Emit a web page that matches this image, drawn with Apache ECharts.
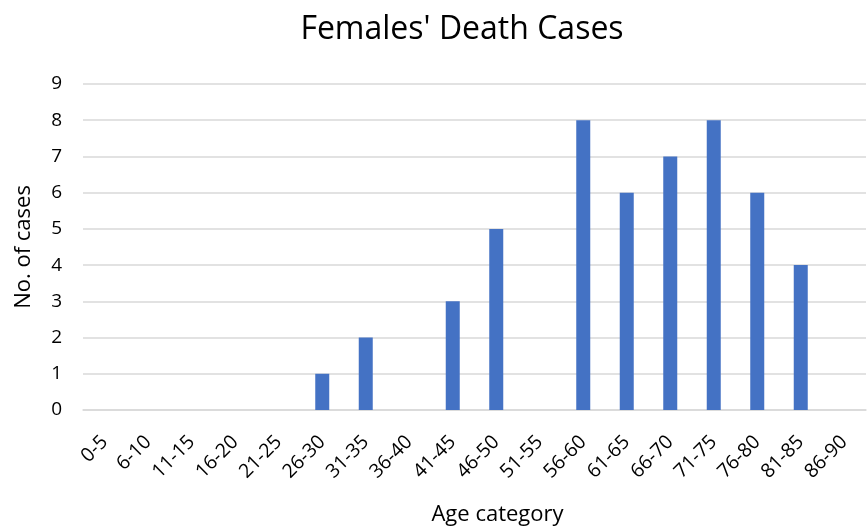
<!DOCTYPE html>
<html>
  <head>
    <meta charset="utf-8" />
    <title>Females' Death Cases</title>
    <script src="https://cdn.jsdelivr.net/npm/echarts@6/dist/echarts.min.js"></script>
  </head>
  <body style="margin: 0">
    <div id="main" style="width: 868px; height: 529px"></div>
    <script>
      var ageGroups = ["0-5", "6-10", "11-15", "16-20", "21-25", "26-30", "31-35", "36-40", "41-45",
        "46-50", "51-55", "56-60", "61-65", "66-70", "71-75", "76-80", "81-85", "86-90"];
      var deathCases = [0, 0, 0, 0, 0, 1, 2, 0, 3, 5, 0, 8, 6, 7, 8, 6, 4, 0];
      var yTicks = { min: 0, max: 9, interval: 1 };

      var myChart = echarts.init(document.getElementById("main"));
      var font = "'Open Sans', 'Noto Sans', sans-serif";

      var option = {
        backgroundColor: "#ffffff",
        animation: false,
        title: {
          text: "Females' Death Cases",
          left: 457,
          top: 9,
          textAlign: "center",
          textStyle: { fontFamily: font, fontSize: 32, fontWeight: "normal", color: "#000" }
        },
        grid: { left: 83, right: 2, top: 84, bottom: 119, outerBoundsMode: "none", containLabel: false },
        xAxis: {
          type: "category",
          data: ageGroups,
          name: "Age category",
          nameLocation: "middle",
          nameGap: 94,
          nameTextStyle: { fontFamily: font, fontSize: 22, color: "#000", padding: [0, 0, 0, 46] },
          axisLine: { lineStyle: { color: "#d9d9d9", width: 1.5 } },
          axisTick: { show: false },
          axisLabel: { rotate: 45, interval: 0, margin: 29, fontFamily: font, fontSize: 19.5, color: "#000" }
        },
        yAxis: {
          type: "value",
          min: yTicks.min,
          max: yTicks.max,
          interval: yTicks.interval,
          name: "No. of cases",
          nameLocation: "middle",
          nameGap: 48,
          nameTextStyle: { fontFamily: font, fontSize: 22, color: "#000" },
          axisLabel: { margin: 21, fontFamily: font, fontSize: 19, color: "#000" },
          splitLine: { lineStyle: { color: "#d9d9d9", width: 1.5 } }
        },
        series: [
          {
            type: "bar",
            data: deathCases,
            barWidth: 14,
            itemStyle: { color: "#4472c4" }
          }
        ]
      };

      myChart.setOption(option);
    </script>
  </body>
</html>
